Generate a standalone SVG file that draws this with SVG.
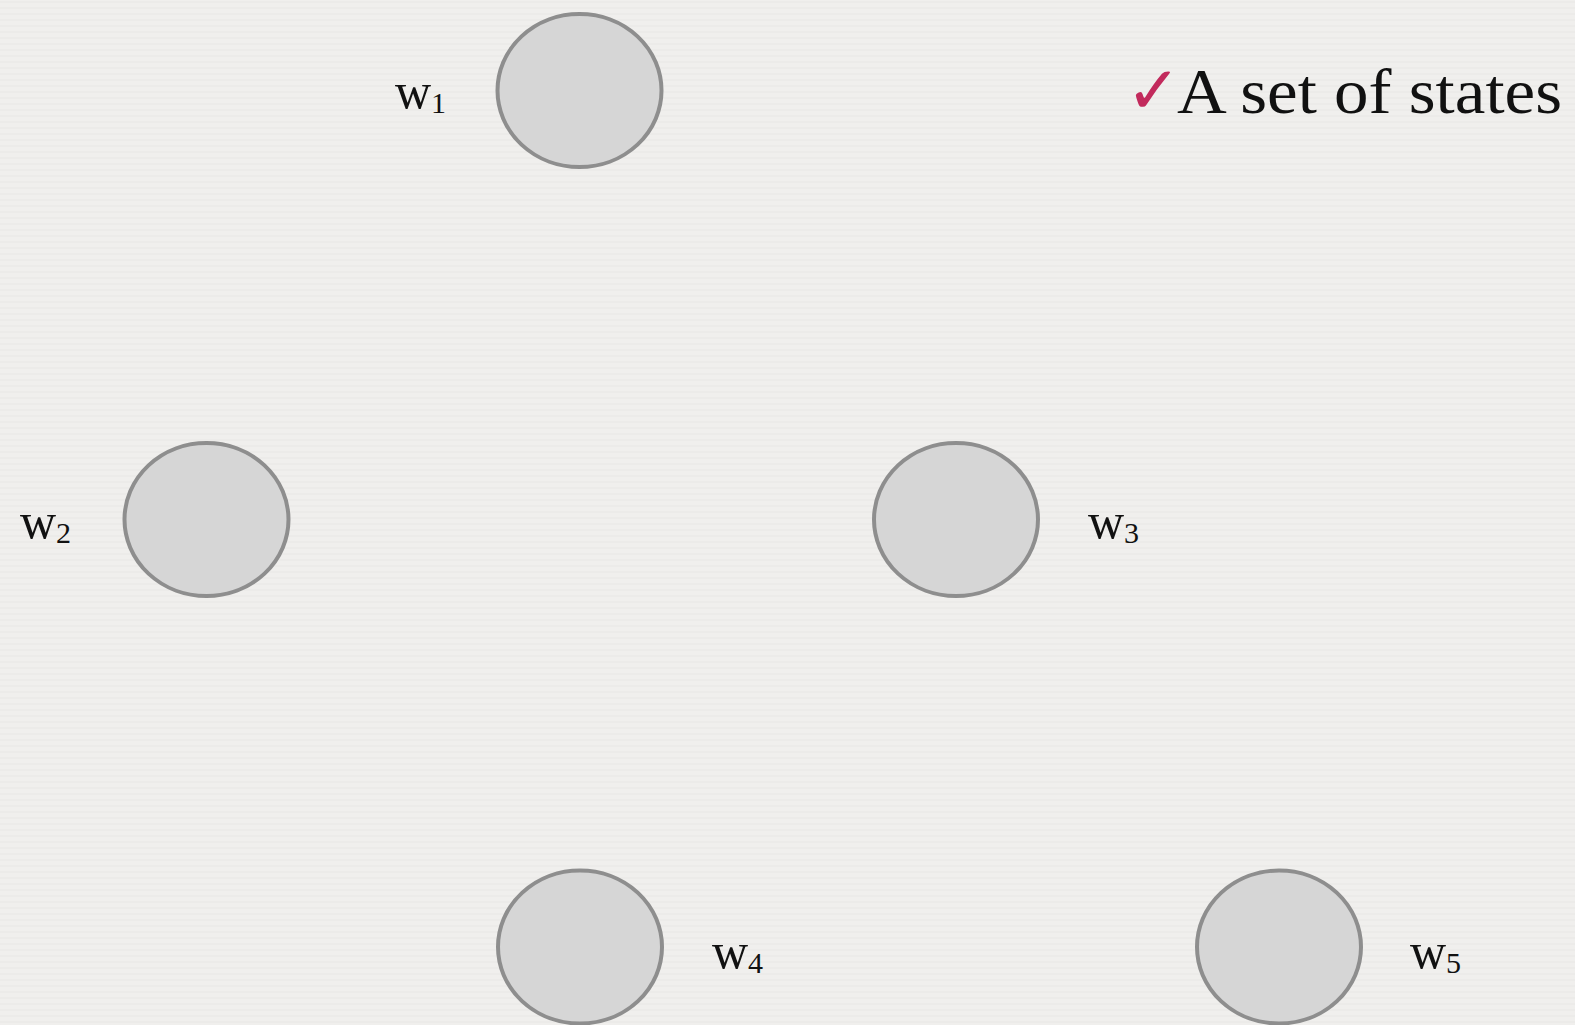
<svg xmlns="http://www.w3.org/2000/svg" width="1575" height="1025" viewBox="0 0 1575 1025">
<defs>
<pattern id="tex" width="40" height="6" patternUnits="userSpaceOnUse">
<rect width="40" height="6" fill="#f0efed"/>
<line x1="0" y1="2" x2="40" y2="2" stroke="#e9e8e6" stroke-width="1"/>
</pattern>
</defs>
<style>
.node ellipse{fill:#d6d6d6;stroke:#8e8e8e;stroke-width:4}
.lbl{font-family:"Liberation Serif","DejaVu Serif",serif;font-size:50px;fill:#111}
.sub{font-size:30px}
.title{font-family:"Liberation Serif","DejaVu Serif",serif;font-size:64px;fill:#111}
.check{font-family:"DejaVu Sans",sans-serif;font-size:66px;font-weight:bold;fill:#c22a5c}
</style>
<rect width="1575" height="1025" fill="url(#tex)"/>
<g id="connectors"></g>
<g id="node-w1" class="node">
<ellipse cx="579.5" cy="90.5" rx="82" ry="76.5"/>
<text class="lbl" x="395" y="108">w<tspan class="sub" dy="5">1</tspan></text>
</g>
<g id="node-w2" class="node">
<ellipse cx="206.5" cy="519.5" rx="82" ry="76.5"/>
<text class="lbl" x="20" y="538">w<tspan class="sub" dy="5">2</tspan></text>
</g>
<g id="node-w3" class="node">
<ellipse cx="956" cy="519.5" rx="82" ry="76.5"/>
<text class="lbl" x="1088" y="538">w<tspan class="sub" dy="5">3</tspan></text>
</g>
<g id="node-w4" class="node">
<ellipse cx="580" cy="947" rx="82" ry="76.5"/>
<text class="lbl" x="712" y="968">w<tspan class="sub" dy="5">4</tspan></text>
</g>
<g id="node-w5" class="node">
<ellipse cx="1279" cy="947" rx="82" ry="76.5"/>
<text class="lbl" x="1410" y="968">w<tspan class="sub" dy="5">5</tspan></text>
</g>
<g id="title">
<text class="check" x="1126" y="113">✓</text>
<text class="title" x="1177" y="113" textLength="385" lengthAdjust="spacingAndGlyphs">A set of states</text>
</g>
</svg>
